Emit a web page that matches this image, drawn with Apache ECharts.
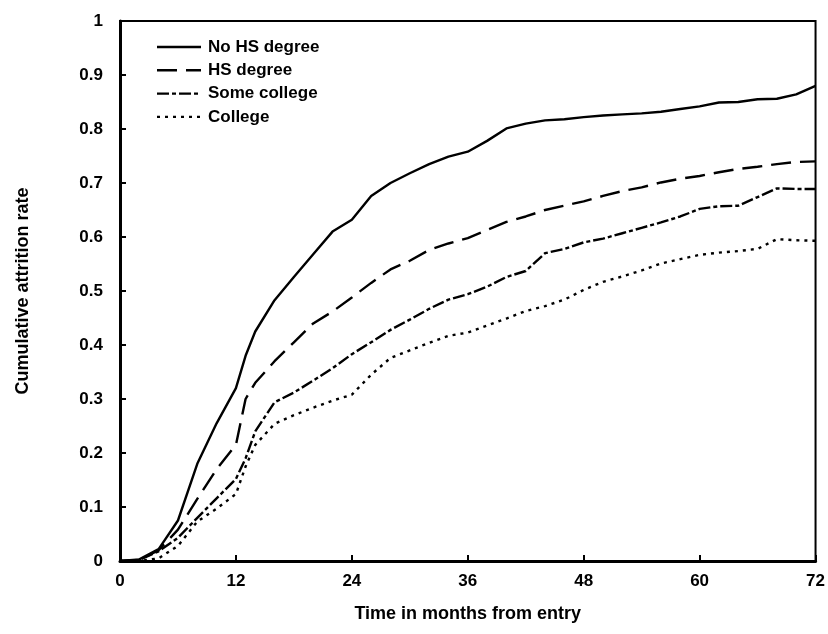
<!DOCTYPE html>
<html>
<head>
<meta charset="utf-8">
<script src="https://cdn.jsdelivr.net/npm/echarts@6/dist/echarts.min.js"></script>
<style>
    html,body{margin:0;padding:0;background:#fff;}
    #chart{width:828px;height:634px;}
</style>
</head>
<body>
<div id="chart"></div>
<script>
// months (common x positions)
var months = [0,2,4,6,8,10,12,13,14,16,18,20,22,24,26,28,30,32,34,36,38,40,42,44,46,48,50,52,54,56,58,60,62,64,66,68,70,72];

var noHS = [0,0.003,0.022,0.075,0.18,0.255,0.32,0.38,0.425,0.483,0.526,0.568,0.61,0.632,0.676,0.7,0.718,0.735,0.749,0.758,0.778,0.801,0.81,0.816,0.818,0.822,0.825,0.827,0.829,0.832,0.837,0.842,0.849,0.85,0.855,0.856,0.864,0.88];
var hsDeg = [0,0.002,0.02,0.058,0.115,0.17,0.215,0.3,0.33,0.37,0.405,0.44,0.462,0.488,0.515,0.54,0.556,0.576,0.588,0.598,0.613,0.628,0.638,0.65,0.658,0.666,0.676,0.685,0.692,0.701,0.708,0.713,0.72,0.726,0.73,0.735,0.739,0.74];
var someCol = [0,0.002,0.018,0.043,0.08,0.116,0.152,0.19,0.24,0.294,0.312,0.334,0.357,0.383,0.405,0.428,0.447,0.467,0.484,0.494,0.508,0.526,0.537,0.57,0.578,0.59,0.597,0.607,0.617,0.627,0.638,0.652,0.657,0.658,0.674,0.69,0.689,0.689];
var college = [0,0,0.005,0.028,0.073,0.097,0.124,0.175,0.215,0.254,0.27,0.284,0.297,0.308,0.345,0.376,0.39,0.404,0.417,0.423,0.436,0.449,0.463,0.472,0.484,0.502,0.517,0.527,0.538,0.551,0.559,0.567,0.571,0.574,0.578,0.596,0.594,0.593];

var names = ['No HS degree','HS degree','Some college','College'];
var dashes = ['solid',[20,9],[12,3,4,3],[3,5]];

function pairs(vals){
    var out = [];
    for(var i=0;i<months.length;i++){
        out.push([months[i], vals[i]]);
    }
    return out;
}

var font = 'Liberation Sans, Arial, sans-serif';

function line(name, vals, dash){
    return {
        name: name,
        type: 'line',
        data: pairs(vals),
        symbol: 'none',
        showSymbol: false,
        silent: true,
        lineStyle: {color:'#000', width:2.4, type:dash},
        itemStyle: {color:'#000'}
    };
}

// legend drawn by hand so the dash patterns show
function legendItems(){
    var g = [];
    for(var i=0;i<names.length;i++){
        var y = 47 + i*23.3;
        var d = dashes[i];
        g.push({
            type:'line', silent:true,
            shape:{x1:157, y1:y, x2:201, y2:y},
            style:{stroke:'#000', lineWidth:2.4, lineDash: d==='solid' ? null : d}
        });
        g.push({
            type:'text', silent:true, x:208, y:y,
            style:{text:names[i], fill:'#000', font:'bold 17px ' + font, verticalAlign:'middle'}
        });
    }
    return g;
}

var myChart = echarts.init(document.getElementById('chart'));
myChart.setOption({
    animation: false,
    backgroundColor: '#fff',
    grid: {left:120, right:10, top:21, bottom:73, show:true, borderColor:'#000', borderWidth:2},
    graphic: legendItems(),
    xAxis: {
        type: 'value',
        min: 0, max: 72, interval: 12,
        name: 'Time in months from entry',
        nameLocation: 'middle',
        nameGap: 44,
        nameTextStyle: {fontFamily:font, fontSize:18, fontWeight:'bold', color:'#000'},
        axisLine: {lineStyle:{color:'#000', width:3}},
        axisTick: {inside:true, length:6, lineStyle:{color:'#000', width:2}},
        axisLabel: {fontFamily:font, fontSize:17, fontWeight:'bold', color:'#000', margin:12},
        splitLine: {show:false}
    },
    yAxis: {
        type: 'value',
        min: 0, max: 1, interval: 0.1,
        name: 'Cumulative attrition rate',
        nameLocation: 'middle',
        nameGap: 88,
        nameTextStyle: {fontFamily:font, fontSize:18, fontWeight:'bold', color:'#000'},
        axisLine: {lineStyle:{color:'#000', width:3}},
        axisTick: {inside:true, length:6, lineStyle:{color:'#000', width:2}},
        axisLabel: {fontFamily:font, fontSize:17, fontWeight:'bold', color:'#000', margin:17},
        splitLine: {show:false}
    },
    series: [
        line(names[0], noHS, dashes[0]),
        line(names[1], hsDeg, dashes[1]),
        line(names[2], someCol, dashes[2]),
        line(names[3], college, dashes[3])
    ]
});
</script>
</body>
</html>
